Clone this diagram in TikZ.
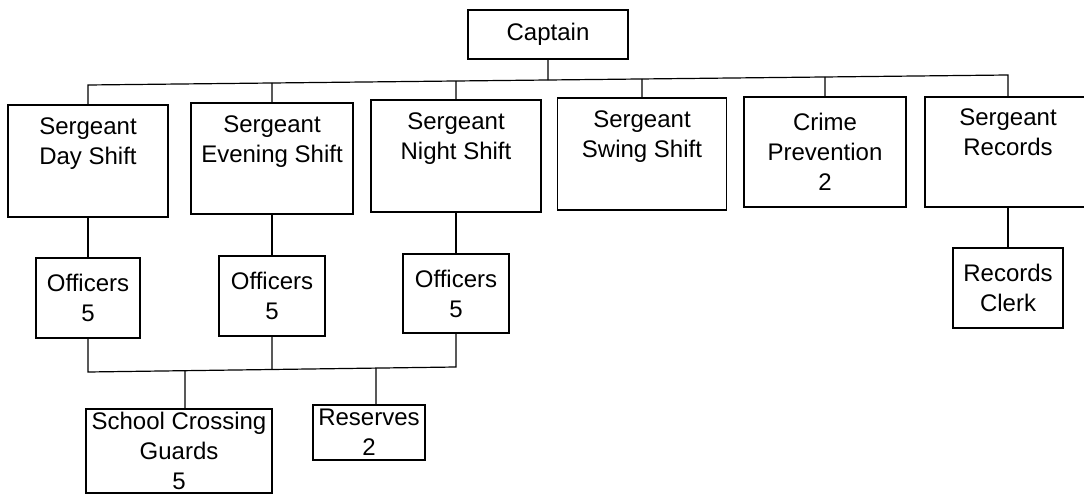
\documentclass[tikz,border=0pt]{standalone}
\usepackage{fontspec}
\setmainfont{Liberation Sans}
\usetikzlibrary{calc}
\begin{document}
\begin{tikzpicture}[x=1pt,y=-1pt,
  box/.style={draw, line width=1.2pt, rectangle, inner sep=0pt, align=center,
              font=\fontsize{24}{30}\selectfont},
  conn/.style={line width=1.2pt}]
\useasboundingbox (0,0) rectangle (1084,494);
% top
\node[box, minimum width=160pt, minimum height=49pt] (cap) at (548,34.5) {Captain};
% sergeants row
\node[box, minimum width=160pt, minimum height=112pt] (day) at (88,161) {Sergeant\\Day Shift\\\strut};
\node[box, minimum width=162pt, minimum height=111pt] (eve) at (272,158.5) {Sergeant\\Evening Shift\\\strut};
\node[box, minimum width=170pt, minimum height=112pt] (night) at (456,156) {Sergeant\\Night Shift\\\strut};
\node[box, minimum width=169pt, minimum height=112pt] (swing) at (642,154) {Sergeant\\Swing Shift\\\strut};
\node[box, minimum width=162pt, minimum height=110pt] (crime) at (825,152) {Crime\\Prevention\\2};
\node[box, minimum width=166pt, minimum height=110pt] (rec) at (1008,152) {Sergeant\\Records\\\strut};
% officers row
\node[box, minimum width=104pt, minimum height=80pt] (off1) at (88,298) {Officers\\5};
\node[box, minimum width=106pt, minimum height=80pt] (off2) at (272,296) {Officers\\5};
\node[box, minimum width=106pt, minimum height=79pt] (off3) at (456,293.5) {Officers\\5};
\node[box, minimum width=110pt, minimum height=80pt] (clerk) at (1008,288) {Records\\Clerk};
% bottom row
\node[box, minimum width=186pt, minimum height=84pt] (scg) at (179,451) {School Crossing\\Guards\\5};
\node[box, minimum width=112pt, minimum height=55pt] (res) at (369,432.5) {Reserves\\2};
% buses
\coordinate (busL) at (88,85);
\coordinate (busR) at (1008,75);
\coordinate (busL2) at (88,372);
\coordinate (busR2) at (456,367);
\draw[conn] (day.north) -- (busL) -- (busR) -- (rec.north);
\draw[conn] (cap.south) -- (intersection of busL--busR and cap.south--cap.north);
\draw[conn] (eve.north) -- (intersection of busL--busR and eve.north--eve.south);
\draw[conn] (night.north) -- (intersection of busL--busR and night.north--night.south);
\draw[conn] (swing.north) -- (intersection of busL--busR and swing.north--swing.south);
\draw[conn] (crime.north) -- (intersection of busL--busR and crime.north--crime.south);
% sergeants to officers
\draw[conn] (day.south) -- (off1.north);
\draw[conn] (eve.south) -- (off2.north);
\draw[conn] (night.south) -- (off3.north);
\draw[conn] (rec.south) -- (clerk.north);
% officers to lower bus
\draw[conn] (off1.south) -- (busL2) -- (busR2) -- (off3.south);
\draw[conn] (off2.south) -- (intersection of busL2--busR2 and off2.south--off2.north);
\draw[conn] ([xshift=6pt]scg.north) -- (intersection of busL2--busR2 and {[xshift=6pt]scg.north}--{[xshift=6pt]scg.south});
\draw[conn] ([xshift=7pt]res.north) -- (intersection of busL2--busR2 and {[xshift=7pt]res.north}--{[xshift=7pt]res.south});
\end{tikzpicture}
\end{document}
